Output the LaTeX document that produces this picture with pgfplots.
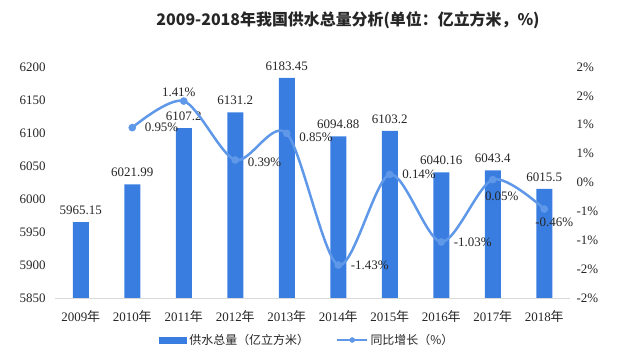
\documentclass[border=0pt]{standalone}
\usepackage{pgfplots}
\pgfplotsset{compat=1.18}
\usepackage{fontspec}
\setmainfont{Liberation Serif}
\newfontfamily\cjk{Noto Sans CJK SC}
\definecolor{barc}{RGB}{58,125,224}
\definecolor{linec}{RGB}{95,152,232}
\definecolor{axc}{RGB}{217,217,217}
\begin{document}
\begin{tikzpicture}
\useasboundingbox (0,0) rectangle (630bp,359bp);
\node[font=\cjk\bfseries\fontsize{16}{19}\selectfont, text=black!85] at (348bp,339bp) {2009-2018年我国供水总量分析(单位：亿立方米，\%)};
\begin{axis}[
  at={(55bp,61bp)}, anchor=south west, scale only axis,
  width=515bp, height=231bp,
  xmin=-0.5, xmax=9.5, ymin=5850, ymax=6200,
  ytick={5850,5900,...,6200},
  xtick={0,...,9},
  xticklabels={2009{\cjk 年},2010{\cjk 年},2011{\cjk 年},2012{\cjk 年},2013{\cjk 年},2014{\cjk 年},2015{\cjk 年},2016{\cjk 年},2017{\cjk 年},2018{\cjk 年}},
  axis x line*=bottom, axis y line*=left,
  axis line style={-},
  y axis line style={draw=none},
  x axis line style={draw=axc, line width=0.8pt},
  major tick length=0,
  tick label style={font=\fontsize{13}{15}\selectfont, text=black!85},
  xticklabel style={yshift=-9bp},
  yticklabel style={xshift=-6bp},
  /pgf/number format/assume math mode=true,
  /pgf/number format/1000 sep={},
  ybar, bar width=16bp,
  legend style={at={(0.49,0)}, anchor=center, yshift=-42bp, draw=none,
    font=\cjk\fontsize{12}{14}\selectfont, text=black!85,
    /tikz/every even column/.append style={column sep=25bp}},
  legend columns=2, legend cell align=left,
]
\addplot[fill=barc, draw=none,
  nodes near coords, point meta=explicit symbolic,
  every node near coord/.append style={font=\fontsize{13}{15}\selectfont, text=black!85, anchor=south, yshift=4bp},
  legend image code/.code={\fill[barc] (0bp,-3.5bp) rectangle (28bp,3.5bp);}]
  table[x=x, y=y, meta=y] {
x y
0 5965.15
1 6021.99
2 6107.2
3 6131.2
4 6183.45
5 6094.88
6 6103.2
7 6040.16
8 6043.4
9 6015.5
};
\addlegendentry{供水总量（亿立方米）}
\addlegendimage{legend image code/.code={\draw[linec,line width=2.5bp] (0bp,0bp) -- (30bp,0bp); \fill[linec] (15bp,0bp) circle (2.5bp);}}
\addlegendentry{同比增长（\%）}
\end{axis}
\begin{axis}[
  at={(55bp,61bp)}, anchor=south west, scale only axis,
  width=515bp, height=231bp,
  xmin=-0.5, xmax=9.5, ymin=-2, ymax=2,
  axis x line=none, axis y line*=right,
  axis line style={draw=none},
  major tick length=0,
  ytick={-2,-1.5,...,2},
  yticklabels={-2\%,-2\%,-1\%,-1\%,0\%,1\%,1\%,2\%,2\%},
  tick label style={font=\fontsize{13}{15}\selectfont, text=black!85},
  yticklabel style={xshift=3bp},
]
\addplot[linec, line width=2.5bp, smooth, mark=*, mark size=2.5bp,
  mark options={fill=linec, draw=linec},
  nodes near coords={\pgfplotspointmeta\%}, point meta=explicit symbolic,
  visualization depends on={value \thisrow{pos}\as\lblpos},
  visualization depends on={\thisrow{dx}\as\dx},
  visualization depends on={\thisrow{dy}\as\dy},
  every node near coord/.append style={font=\fontsize{13}{15}\selectfont, text=black!85, anchor=\lblpos, xshift=\dx pt, yshift=\dy pt}]
  table[x=x, y=y, meta=lbl] {
x y lbl pos dx dy
1 0.95 0.95 west 8 0
2 1.41 1.41 south -5 0
3 0.39 0.39 west 8 -2
4 0.85 0.85 west 8 -4
5 -1.43 -1.43 west 8 0
6 0.14 0.14 west 8 0
7 -1.03 -1.03 west 8 0
8 0.05 0.05 north 9 -8
9 -0.46 -0.46 north 10 -4
};
\end{axis}
\end{tikzpicture}
\end{document}
